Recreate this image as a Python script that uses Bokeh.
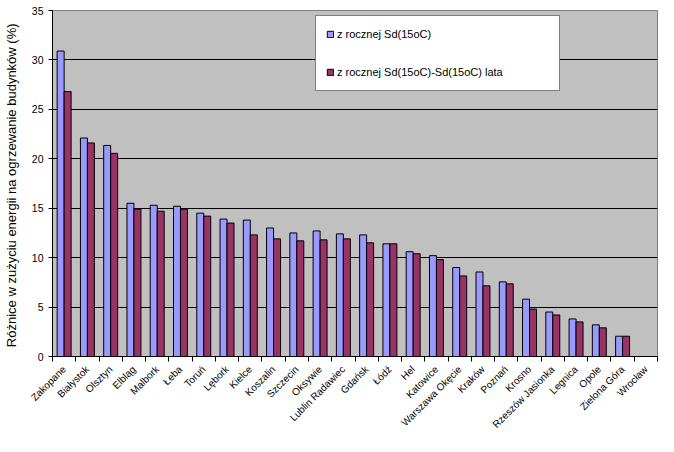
import math
from bokeh.plotting import figure
from bokeh.models import ColumnDataSource, Range1d, FixedTicker, Legend, LegendItem
from bokeh.transform import dodge
from bokeh.embed import file_html
from bokeh.resources import INLINE

cities = ["Zakopane", "Białystok", "Olsztyn", "Elbląg", "Malbork", "Łeba", "Toruń",
          "Lębork", "Kielce", "Koszalin", "Szczecin", "Oksywie", "Lublin Radawiec",
          "Gdańsk", "Łódź", "Hel", "Katowice", "Warszawa Okęcie", "Kraków", "Poznań",
          "Krosno", "Rzeszów Jasionka", "Legnica", "Opole", "Zielona Góra", "Wrocław"]
s_roczna = [30.9, 22.1, 21.35, 15.5, 15.3, 15.2, 14.5, 13.9, 13.8, 13.0, 12.5, 12.7, 12.4,
            12.3, 11.4, 10.6, 10.2, 9.0, 8.55, 7.55, 5.8, 4.5, 3.8, 3.2, 2.05, 0.0]
s_lata = [26.8, 21.6, 20.55, 14.9, 14.7, 14.9, 14.2, 13.5, 12.3, 11.9, 11.7, 11.8, 11.9,
          11.5, 11.4, 10.4, 9.8, 8.15, 7.15, 7.35, 4.8, 4.2, 3.5, 2.9, 2.05, 0.0]
y_ticks = [0, 5, 10, 15, 20, 25, 30, 35]
series_names = ["z rocznej Sd(15oC)", "z rocznej Sd(15oC)-Sd(15oC) lata"]
FONT = "Liberation Sans"

idx = list(range(len(cities)))
src = ColumnDataSource(dict(x=idx, a=s_roczna, b=s_lata, city=cities))

p = figure(width=658, height=436, output_backend="svg", toolbar_location=None,
           x_range=Range1d(-0.5, len(cities) - 0.5), y_range=Range1d(0, 35),
           min_border_left=50, min_border_top=10, min_border_right=1, min_border_bottom=74)
p.background_fill_color = "#C0C0C0"
p.border_fill_color = "white"
p.outline_line_color = "#808080"
p.outline_line_width = 1

r1 = p.vbar(x=dodge("x", -0.15, range=p.x_range), top="a", width=0.3, source=src,
            fill_color="#9999FF", line_color="black", line_width=1)
r2 = p.vbar(x=dodge("x", 0.15, range=p.x_range), top="b", width=0.3, source=src,
            fill_color="#993366", line_color="black", line_width=1)

# grid
p.xgrid.visible = False
p.ygrid.ticker = FixedTicker(ticks=y_ticks[1:-1])
p.ygrid.grid_line_color = "black"
p.ygrid.grid_line_width = 1

# y axis
p.yaxis.ticker = FixedTicker(ticks=y_ticks)
p.yaxis.axis_line_color = "black"
p.yaxis.major_tick_line_color = "black"
p.yaxis.major_tick_out = 4
p.yaxis.major_tick_in = 0
p.yaxis.minor_tick_line_color = None
p.yaxis.major_label_text_font = FONT
p.yaxis.major_label_text_font_size = "10.5px"
p.yaxis.major_label_text_color = "black"
p.yaxis.major_label_standoff = 5
p.yaxis.axis_label = "Różnice  w zużyciu energii na ogrzewanie budynków (%)"
p.yaxis.axis_label_text_font = FONT
p.yaxis.axis_label_text_font_size = "13px"
p.yaxis.axis_label_text_font_style = "normal"
p.yaxis.axis_label_text_color = "black"
p.yaxis.axis_label_standoff = 10

# x axis
p.xaxis.ticker = FixedTicker(ticks=idx, minor_ticks=[i - 0.5 for i in range(len(cities) + 1)])
p.xaxis.major_label_overrides = {i: c for i, c in zip(idx, cities)}
p.xaxis.major_label_orientation = math.pi / 4
p.xaxis.major_tick_in = 0
p.xaxis.major_tick_out = 0
p.xaxis.minor_tick_in = 0
p.xaxis.minor_tick_out = 5
p.xaxis.minor_tick_line_color = "black"
p.xaxis.axis_line_color = "black"
p.xaxis.major_label_text_font = FONT
p.xaxis.major_label_text_font_size = "10px"
p.xaxis.major_label_text_color = "black"
p.xaxis.major_label_standoff = 6

legend = Legend(items=[LegendItem(label=series_names[0], renderers=[r1]),
                       LegendItem(label=series_names[1], renderers=[r2])],
                location=(263, 265))
legend.background_fill_color = "white"
legend.background_fill_alpha = 1
legend.border_line_color = "black"
legend.border_line_width = 1
legend.padding = 10
legend.spacing = 22
legend.label_height = 16
legend.glyph_height = 8
legend.glyph_width = 8
legend.label_standoff = 3
legend.label_width = 212
legend.label_text_font = FONT
legend.label_text_font_size = "11px"
legend.label_text_color = "black"
legend.margin = 0
p.add_layout(legend, "center")

open("out.html", "w").write(file_html(p, INLINE))
